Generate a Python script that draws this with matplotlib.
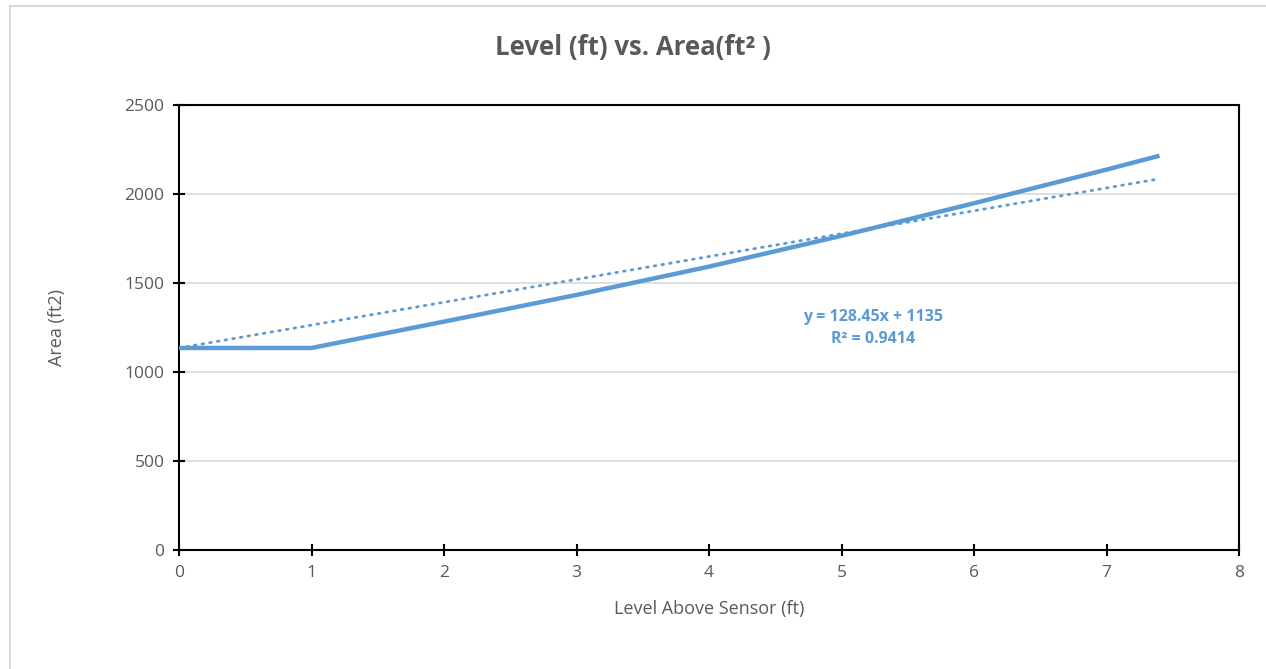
#!/usr/bin/env python3
"""Level (ft) vs. Area(ft²) with linear trendline, Excel-style."""
import matplotlib

matplotlib.use("Agg")
import matplotlib.pyplot as plt
from matplotlib.patches import Rectangle

# values
level_ft = [0, 1, 2, 3, 4, 5, 6, 7, 7.4]
area_ft2 = [1135, 1135, 1283, 1433, 1592, 1765, 1948, 2137, 2215]

# Excel linear trendline as displayed
trend_slope = 128.45
trend_intercept = 1135
trend_r2 = 0.9414
trend_x = [0, 7.4]

BLUE = "#5B9BD5"
GREY = "#595959"

plt.rcParams["font.family"] = ["Open Sans", "DejaVu Sans"]

fig = plt.figure(figsize=(12.66, 6.69), dpi=100)
ax = fig.add_axes([179 / 1266, 119 / 669, 1060 / 1266, 445 / 669])

# chart-area border (light grey, cut at right/bottom as in reference)
fig.patches.append(
    Rectangle((9.5 / 1266, -0.1), 1.2, 1 - 6 / 669 + 0.1,
              transform=fig.transFigure, fill=False,
              edgecolor="#D9D9D9", linewidth=1.5, zorder=0)
)

ax.plot(level_ft, area_ft2, color=BLUE, linewidth=3.2,
        solid_capstyle="butt", zorder=3)
trend_y = [trend_slope * x + trend_intercept for x in trend_x]
ax.plot(trend_x, trend_y, color=BLUE, linewidth=2,
        linestyle=(0, (0.6, 2.2)), dash_capstyle="round", zorder=2)

ax.set_xlim(0, 8)
ax.set_ylim(0, 2500)
ax.set_xticks(range(0, 9))
ax.set_yticks(range(0, 2501, 500))
ax.grid(True, axis="y", color="#D9D9D9", linewidth=1.2)
ax.set_axisbelow(True)

for s in ax.spines.values():
    s.set_color("black")
    s.set_linewidth(1.5)

ax.tick_params(direction="inout", length=9, width=1.5, color="black",
               labelsize=12.5, labelcolor=GREY, pad=6)

ax.set_xlabel("Level Above Sensor (ft)", fontsize=13, color=GREY, labelpad=14)
ax.set_ylabel("Area (ft2)", fontsize=13, color=GREY, labelpad=42)

fig.text(0.5, 1 - 47 / 669, "Level (ft) vs. Area(ft² )", ha="center",
         va="center", fontsize=18.5, fontweight="bold", color=GREY)

ax.text(5.24, 1245,
        f"y = {trend_slope}x + {trend_intercept}\nR² = {trend_r2}",
        ha="center", va="center", fontsize=11.5, fontweight="bold",
        color=BLUE, linespacing=1.5)

fig.savefig("out.png", dpi=100)
plt.close(fig)
